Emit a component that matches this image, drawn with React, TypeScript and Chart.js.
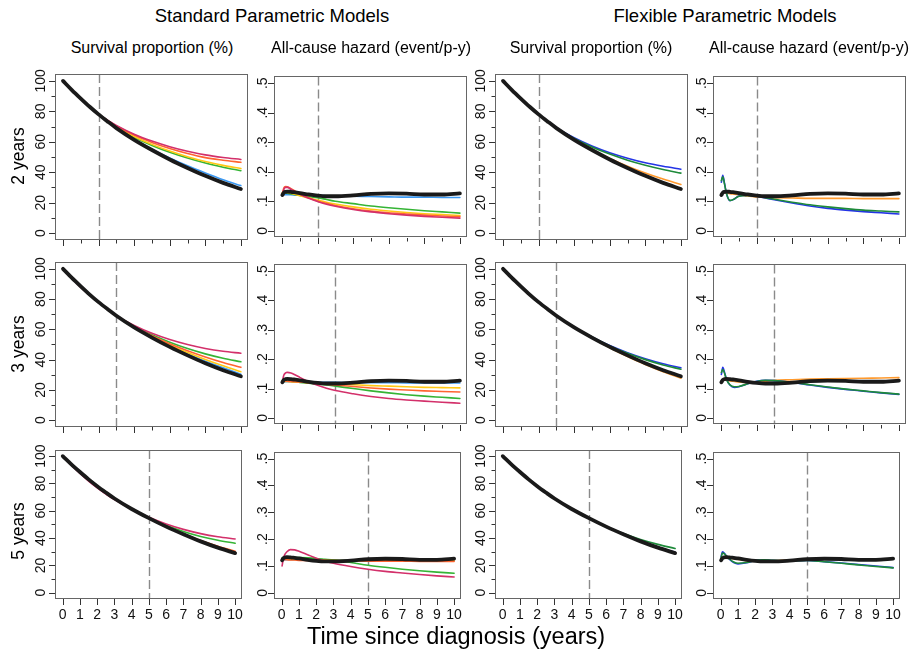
import React, { useEffect, useRef } from "react";
import { Chart, registerables } from "chart.js";
Chart.register(...registerables);

const FONT = "'Liberation Sans', Arial, Helvetica, sans-serif";

// time grids
const T_S = [0, 0.5, 1, 1.5, 2, 2.5, 3, 4, 5, 6, 7, 8, 9, 10];
const T_H = [0.02, 0.1, 0.2, 0.3, 0.5, 0.75, 1, 1.5, 2, 2.5, 3, 4, 5, 6, 7, 8, 9, 10];

// ticks
const X_TICKS = [0, 1, 2, 3, 4, 5, 6, 7, 8, 9, 10];
const SURV_TICKS = [0, 10, 20, 30, 40, 50, 60, 70, 80, 90, 100];
const HAZ_TICKS = [0, 0.1, 0.2, 0.3, 0.4, 0.5];
const HAZ_LABELS = ["0", ".1", ".2", ".3", ".4", ".5"];
const CUTOFFS = [2, 3, 5];
const ROW_LABELS = ["2 years", "3 years", "5 years"];

// true (observed) curves
const TRUE_SURV = [100, 94, 88.4, 83, 78, 73.4, 69, 61.3, 54.6, 48.4, 42.8, 37.6, 33, 29];
const TRUE_HAZ = [0.121, 0.129, 0.132, 0.133, 0.132, 0.13, 0.128, 0.123, 0.119, 0.117, 0.117, 0.12, 0.125, 0.127, 0.126, 0.123, 0.123, 0.127];

// standard parametric survival
const STD2_CRIMSON = [100, 94, 88.4, 83, 78.2, 74.2, 70.8, 65, 60.5, 56.8, 53.8, 51.4, 49.7, 48.4];
const STD2_ORANGE = [100, 94, 88.4, 83, 78.2, 74, 70.4, 64.4, 59.6, 55.6, 52.3, 49.6, 47.9, 46.5];
const STD2_YELLOW = [100, 94, 88.4, 83, 78.1, 73.8, 69.9, 63.5, 58.3, 53.9, 50.2, 47, 44.5, 42.4];
const STD2_GREEN = [100, 94, 88.4, 83, 78, 73.6, 69.6, 62.9, 57.6, 53.1, 49.3, 46, 43.3, 41];
const STD2_BLUE = [100, 94, 88.4, 83, 78, 73.4, 69.1, 61.7, 55.2, 49.4, 44.2, 39.5, 35.1, 31.2];

const STD3_CRIMSON = [100, 93.6, 87.8, 82.6, 77.8, 73.3, 69.1, 62.6, 57.4, 53.3, 50, 47.4, 45.5, 44.2];
const STD3_ORANGE = [100, 94, 88.4, 83, 78, 73.4, 69, 61.8, 55.8, 50.5, 45.9, 41.8, 38.1, 34.9];
const STD3_YELLOW = [100, 94, 88.4, 83, 78, 73.4, 69, 61.6, 55.3, 49.7, 44.7, 40.1, 35.9, 32];
const STD3_GREEN = [100, 94, 88.4, 83, 78, 73.4, 69, 62.1, 56.4, 51.5, 47.3, 43.8, 40.9, 38.6];
const STD3_BLUE = [100, 94, 88.4, 83, 78, 73.4, 69, 61.4, 54.9, 49, 43.8, 39, 34.6, 30.4];

const STD5_CRIMSON = [100, 93.4, 87.3, 81.8, 76.8, 72.3, 68.2, 61.2, 55.2, 50.3, 46.4, 43.3, 41, 39.4];
const STD5_ORANGE = [100, 94, 88.4, 83, 78, 73.4, 69, 61.3, 54.6, 48.6, 43.2, 38.3, 34.1, 30.4];
const STD5_YELLOW = [100, 94, 88.4, 83, 78, 73.4, 69, 61.3, 54.6, 48.5, 43, 38, 33.7, 29.8];
const STD5_GREEN = [100, 94.1, 88.6, 83.3, 78.3, 73.7, 69.3, 61.6, 54.9, 49.4, 44.9, 41.2, 38.4, 36.2];
const STD5_BLUE = [100, 94, 88.4, 83, 78, 73.4, 69, 61.3, 54.6, 48.4, 42.9, 37.8, 33.3, 29.4];

// standard parametric hazards
const H2_CRIMSON = [0.12, 0.14, 0.147, 0.147, 0.141, 0.132, 0.124, 0.11, 0.099, 0.09, 0.083, 0.072, 0.064, 0.058, 0.053, 0.049, 0.046, 0.043];
const H2_ORANGE = [0.125, 0.145, 0.15, 0.149, 0.143, 0.134, 0.126, 0.112, 0.101, 0.093, 0.086, 0.075, 0.067, 0.061, 0.057, 0.053, 0.05, 0.048];
const H2_YELLOW = [0.13, 0.132, 0.131, 0.13, 0.127, 0.123, 0.119, 0.111, 0.104, 0.097, 0.091, 0.081, 0.073, 0.067, 0.062, 0.058, 0.055, 0.052];
const H2_GREEN = [0.128, 0.128, 0.128, 0.127, 0.125, 0.122, 0.12, 0.116, 0.112, 0.106, 0.1, 0.092, 0.084, 0.078, 0.073, 0.068, 0.064, 0.06];
const H2_BLUE = [0.122, 0.122, 0.122, 0.122, 0.122, 0.121, 0.121, 0.12, 0.12, 0.119, 0.118, 0.117, 0.116, 0.115, 0.114, 0.114, 0.113, 0.113];

const H3_CRIMSON = [0.122, 0.145, 0.153, 0.155, 0.153, 0.146, 0.138, 0.123, 0.111, 0.101, 0.093, 0.082, 0.073, 0.066, 0.061, 0.057, 0.053, 0.05];
const H3_ORANGE = [0.125, 0.126, 0.126, 0.125, 0.124, 0.123, 0.122, 0.12, 0.117, 0.115, 0.112, 0.107, 0.102, 0.098, 0.095, 0.092, 0.09, 0.088];
const H3_YELLOW = [0.124, 0.124, 0.124, 0.124, 0.123, 0.122, 0.122, 0.12, 0.119, 0.117, 0.116, 0.113, 0.11, 0.108, 0.106, 0.104, 0.103, 0.102];
const H3_GREEN = [0.128, 0.128, 0.127, 0.126, 0.125, 0.123, 0.121, 0.118, 0.115, 0.112, 0.108, 0.1, 0.092, 0.085, 0.079, 0.074, 0.07, 0.066];
const H3_BLUE = [0.123, 0.123, 0.123, 0.123, 0.123, 0.122, 0.122, 0.122, 0.121, 0.121, 0.121, 0.12, 0.12, 0.12, 0.119, 0.119, 0.119, 0.119];

const H5_CRIMSON = [0.1, 0.13, 0.145, 0.153, 0.161, 0.16, 0.155, 0.142, 0.129, 0.118, 0.11, 0.098, 0.088, 0.08, 0.074, 0.068, 0.063, 0.059];
const H5_ORANGE = [0.124, 0.124, 0.123, 0.123, 0.122, 0.122, 0.121, 0.121, 0.12, 0.12, 0.119, 0.119, 0.118, 0.118, 0.118, 0.117, 0.117, 0.117];
const H5_YELLOW = [0.126, 0.126, 0.125, 0.125, 0.124, 0.124, 0.123, 0.123, 0.122, 0.122, 0.121, 0.121, 0.12, 0.12, 0.12, 0.12, 0.12, 0.12];
const H5_GREEN = [0.13, 0.131, 0.131, 0.131, 0.131, 0.131, 0.131, 0.13, 0.128, 0.125, 0.122, 0.113, 0.103, 0.095, 0.088, 0.082, 0.077, 0.073];
const H5_BLUE = [0.123, 0.123, 0.123, 0.123, 0.123, 0.123, 0.123, 0.123, 0.123, 0.123, 0.123, 0.123, 0.123, 0.122, 0.122, 0.122, 0.122, 0.122];

// flexible parametric survival
const FPM2_BLUE = [100, 94, 88.4, 83, 78, 73.5, 69.2, 62.6, 57.2, 52.8, 49.2, 46.2, 43.9, 42];
const FPM2_GREEN = [100, 94, 88.4, 83, 78, 73.5, 69.1, 62.2, 56.6, 51.9, 47.9, 44.6, 41.8, 39.4];
const FPM2_ORANGE = [100, 94, 88.4, 83, 78, 73.4, 69, 61.4, 54.9, 49.1, 44, 39.5, 35.5, 31.9];
const FPM3_BLUE = [100, 94, 88.4, 83, 78, 73.4, 69, 61.5, 55, 49.3, 44.6, 40.6, 37.3, 34.6];
const FPM3_GREEN = [100, 94, 88.4, 83, 78, 73.4, 69, 61.4, 55, 49.1, 44.2, 40, 36.5, 33.6];
const FPM3_ORANGE = [100, 94, 88.4, 83, 78, 73.4, 69, 61.2, 54.4, 47.8, 42, 36.8, 32, 27.7];
const FPM5_BLUE = [100, 94, 88.4, 83, 78, 73.4, 69, 61.3, 54.6, 48.5, 42.9, 37.9, 33.5, 29.6];
const FPM5_GREEN = [100, 94, 88.4, 83, 78, 73.4, 69, 61.3, 54.6, 48.6, 43.3, 39, 35.4, 32.4];
const FPM5_ORANGE = [100, 94, 88.4, 83, 78, 73.4, 69, 61.3, 54.6, 48.4, 42.8, 37.7, 33.2, 29.2];

// flexible parametric hazards
const FH2_BLUE = [0.165, 0.188, 0.16, 0.128, 0.102, 0.108, 0.118, 0.121, 0.117, 0.111, 0.105, 0.094, 0.084, 0.076, 0.07, 0.065, 0.061, 0.057];
const FH2_GREEN = [0.17, 0.183, 0.158, 0.128, 0.103, 0.108, 0.117, 0.12, 0.117, 0.112, 0.107, 0.097, 0.088, 0.081, 0.075, 0.07, 0.067, 0.064];
const FH2_ORANGE = [0.124, 0.128, 0.129, 0.128, 0.126, 0.124, 0.122, 0.118, 0.115, 0.113, 0.112, 0.111, 0.11, 0.11, 0.11, 0.109, 0.109, 0.109];
const FH3_BLUE = [0.148, 0.172, 0.155, 0.133, 0.112, 0.104, 0.106, 0.116, 0.125, 0.128, 0.127, 0.121, 0.112, 0.104, 0.097, 0.091, 0.085, 0.08];
const FH3_GREEN = [0.155, 0.165, 0.152, 0.132, 0.113, 0.106, 0.107, 0.116, 0.124, 0.128, 0.127, 0.121, 0.113, 0.105, 0.098, 0.092, 0.086, 0.081];
const FH3_ORANGE = [0.124, 0.127, 0.128, 0.128, 0.126, 0.124, 0.122, 0.12, 0.122, 0.125, 0.128, 0.13, 0.132, 0.133, 0.134, 0.135, 0.136, 0.137];
const FH5_BLUE = [0.135, 0.153, 0.148, 0.14, 0.125, 0.113, 0.108, 0.112, 0.121, 0.122, 0.12, 0.119, 0.121, 0.116, 0.111, 0.105, 0.1, 0.094];
const FH5_GREEN = [0.13, 0.148, 0.146, 0.139, 0.126, 0.115, 0.11, 0.113, 0.121, 0.123, 0.121, 0.119, 0.121, 0.116, 0.11, 0.104, 0.098, 0.093];
const FH5_ORANGE = [0.125, 0.13, 0.132, 0.132, 0.13, 0.127, 0.124, 0.12, 0.118, 0.118, 0.119, 0.122, 0.125, 0.127, 0.127, 0.126, 0.126, 0.127];

// first colour listed is drawn on top
const STD_COLORS = ["#d3306a", "#ff6430", "#ffc814", "#35b435", "#3a98f2"];
const FPM_COLORS = ["#1e8a3a", "#2434e6", "#ff9a2e"];

type Panel = { row: number; col: number; kind: "surv" | "haz"; series: number[][]; colors: string[] };

const PANELS: Panel[] = [
  { row: 0, col: 0, kind: "surv", series: [STD2_CRIMSON, STD2_ORANGE, STD2_YELLOW, STD2_GREEN, STD2_BLUE], colors: STD_COLORS },
  { row: 0, col: 1, kind: "haz", series: [H2_CRIMSON, H2_ORANGE, H2_YELLOW, H2_GREEN, H2_BLUE], colors: STD_COLORS },
  { row: 0, col: 2, kind: "surv", series: [FPM2_GREEN, FPM2_BLUE, FPM2_ORANGE], colors: FPM_COLORS },
  { row: 0, col: 3, kind: "haz", series: [FH2_GREEN, FH2_BLUE, FH2_ORANGE], colors: FPM_COLORS },
  { row: 1, col: 0, kind: "surv", series: [STD3_CRIMSON, STD3_ORANGE, STD3_YELLOW, STD3_GREEN, STD3_BLUE], colors: STD_COLORS },
  { row: 1, col: 1, kind: "haz", series: [H3_CRIMSON, H3_ORANGE, H3_YELLOW, H3_GREEN, H3_BLUE], colors: STD_COLORS },
  { row: 1, col: 2, kind: "surv", series: [FPM3_GREEN, FPM3_BLUE, FPM3_ORANGE], colors: FPM_COLORS },
  { row: 1, col: 3, kind: "haz", series: [FH3_GREEN, FH3_BLUE, FH3_ORANGE], colors: FPM_COLORS },
  { row: 2, col: 0, kind: "surv", series: [STD5_CRIMSON, STD5_ORANGE, STD5_YELLOW, STD5_GREEN, STD5_BLUE], colors: STD_COLORS },
  { row: 2, col: 1, kind: "haz", series: [H5_CRIMSON, H5_ORANGE, H5_YELLOW, H5_GREEN, H5_BLUE], colors: STD_COLORS },
  { row: 2, col: 2, kind: "surv", series: [FPM5_GREEN, FPM5_BLUE, FPM5_ORANGE], colors: FPM_COLORS },
  { row: 2, col: 3, kind: "haz", series: [FH5_GREEN, FH5_BLUE, FH5_ORANGE], colors: FPM_COLORS },
];

// layout (plot boxes)
const COL_L = [55, 274, 495, 713];
const BOX_W = 193;
const ROW_T = [65, 253, 441];
const ROW_H = [176, 175, 158];
const AW = 40;
const PAD_T = 2;
const PAD_R = 3;
const AH = [10, 10, 36];

const framePlugin = {
  id: "frame",
  beforeDatasetsDraw(chart: any, _args: any, opts: any) {
    const { ctx, chartArea } = chart;
    const xs = chart.scales.x;
    const px = Math.round(xs.getPixelForValue(opts.cut)) + 0.5;
    ctx.save();
    ctx.strokeStyle = "#8a8a8a";
    ctx.lineWidth = 1.4;
    ctx.setLineDash([9, 4]);
    ctx.beginPath();
    ctx.moveTo(px, chartArea.top);
    ctx.lineTo(px, chartArea.bottom);
    ctx.stroke();
    ctx.restore();
  },
  afterDraw(chart: any, _args: any, opts: any) {
    const { ctx, chartArea } = chart;
    const { left, right, top, bottom } = chartArea;
    const xs = chart.scales.x;
    const ys = chart.scales.y;
    ctx.save();
    ctx.strokeStyle = "#666";
    ctx.lineWidth = 1;
    ctx.strokeRect(Math.round(left) + 0.5, Math.round(top) + 0.5, Math.round(right - left) - 1, Math.round(bottom - top) - 1);
    ctx.strokeStyle = "#333";
    ctx.beginPath();
    X_TICKS.forEach((v) => {
      const p = Math.round(xs.getPixelForValue(v)) + 0.5;
      const len = opts.xMinor && v % 2 === 1 ? 3.5 : 6;
      ctx.moveTo(p, Math.round(bottom));
      ctx.lineTo(p, Math.round(bottom) + len);
    });
    const yt = opts.kind === "surv" ? SURV_TICKS : HAZ_TICKS;
    yt.forEach((v) => {
      const p = Math.round(ys.getPixelForValue(v)) + 0.5;
      const len = opts.kind === "surv" && v % 20 !== 0 ? 3.5 : 6;
      ctx.moveTo(Math.round(left), p);
      ctx.lineTo(Math.round(left) - len, p);
    });
    ctx.stroke();
    ctx.restore();
  },
};

function buildConfig(p: Panel): any {
  const surv = p.kind === "surv";
  const T = surv ? T_S : T_H;
  const truth = surv ? TRUE_SURV : TRUE_HAZ;
  const mk = (vals: number[], color: string, width: number) => ({
    data: T.map((t, j) => ({ x: t, y: vals[j] })),
    borderColor: color,
    backgroundColor: color,
    borderWidth: width,
    pointRadius: 0,
    fill: false,
    cubicInterpolationMode: "monotone",
    borderJoinStyle: "round",
    borderCapStyle: "round",
  });
  const datasets = [mk(truth, "#1a1a1a", 3.8), ...p.series.map((s, i) => mk(s, p.colors[i], 1.6))];
  const tickFont = { family: FONT, size: 14 };
  return {
    type: "line",
    data: { datasets },
    plugins: [framePlugin],
    options: {
      responsive: false,
      animation: false,
      events: [],
      layout: { padding: { left: 0, top: PAD_T, right: PAD_R, bottom: 0 } },
      plugins: {
        legend: { display: false },
        tooltip: { enabled: false },
        frame: { cut: CUTOFFS[p.row], xMinor: p.row < 2, kind: p.kind },
      },
      scales: {
        x: {
          type: "linear",
          min: -0.45,
          max: 10.4,
          afterBuildTicks: (s: any) => {
            s.ticks = X_TICKS.map((v) => ({ value: v }));
          },
          afterFit: (s: any) => {
            s.height = AH[p.row];
          },
          grid: { display: false, drawTicks: false },
          border: { display: false },
          ticks: {
            display: p.row === 2,
            autoSkip: false,
            minRotation: 0,
            maxRotation: 0,
            padding: 8,
            color: "#111",
            font: tickFont,
            callback: (v: any) => String(v),
          },
        },
        y: {
          type: "linear",
          min: surv ? -4.6 : -0.023,
          max: surv ? 104.6 : 0.523,
          afterBuildTicks: (s: any) => {
            s.ticks = (surv ? SURV_TICKS : HAZ_TICKS).map((v) => ({ value: v }));
          },
          afterFit: (s: any) => {
            s.width = AW;
          },
          grid: { display: false, drawTicks: false },
          border: { display: false },
          ticks: {
            autoSkip: false,
            minRotation: 90,
            maxRotation: 90,
            crossAlign: "center",
            padding: surv ? 2.5 : 5,
            color: "#111",
            font: tickFont,
            callback: (v: any, i: number) => (surv ? (Math.round(v) % 20 === 0 ? String(Math.round(v)) : "") : HAZ_LABELS[i]),
          },
        },
      },
    },
  };
}

const Txt = ({ x, y, size, rot, children }: any) => (
  <div
    style={{
      position: "absolute",
      left: x,
      top: y,
      transform: `translate(-50%, -50%)${rot ? " rotate(-90deg)" : ""}`,
      fontSize: size,
      lineHeight: 1,
      whiteSpace: "nowrap",
      color: "#000",
      fontFamily: FONT,
    }}
  >
    {children}
  </div>
);

export default function App() {
  const refs = useRef<(HTMLCanvasElement | null)[]>([]);
  useEffect(() => {
    const charts = PANELS.map((p, i) => new Chart(refs.current[i] as HTMLCanvasElement, buildConfig(p)));
    return () => charts.forEach((c) => c.destroy());
  }, []);
  return (
    <div style={{ position: "absolute", left: 0, top: 0, width: 911, height: 653, background: "#fff", overflow: "hidden", fontFamily: FONT }}>
      {PANELS.map((p, i) => {
        const w = AW + BOX_W + PAD_R;
        const h = PAD_T + ROW_H[p.row] + AH[p.row];
        return (
          <canvas
            key={i}
            ref={(el) => {
              refs.current[i] = el;
            }}
            width={w}
            height={h}
            style={{ position: "absolute", left: COL_L[p.col] - AW, top: ROW_T[p.row] - PAD_T, width: w, height: h }}
          />
        );
      })}
      <Txt x={272} y={16} size={18.5}>Standard Parametric Models</Txt>
      <Txt x={725} y={16} size={18.5}>Flexible Parametric Models</Txt>
      <Txt x={152} y={48} size={16}>Survival proportion (%)</Txt>
      <Txt x={371} y={48} size={16}>All-cause hazard (event/p-y)</Txt>
      <Txt x={591} y={48} size={16}>Survival proportion (%)</Txt>
      <Txt x={809} y={48} size={16}>All-cause hazard (event/p-y)</Txt>
      <Txt x={18.5} y={156} size={17.5} rot>{ROW_LABELS[0]}</Txt>
      <Txt x={18.5} y={344} size={17.5} rot>{ROW_LABELS[1]}</Txt>
      <Txt x={18.5} y={531} size={17.5} rot>{ROW_LABELS[2]}</Txt>
      <Txt x={456} y={637} size={23.5}>Time since diagnosis (years)</Txt>
    </div>
  );
}
